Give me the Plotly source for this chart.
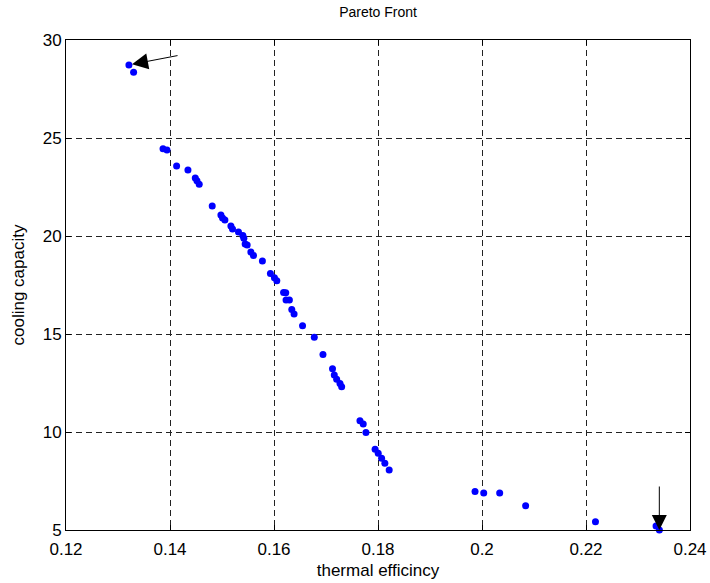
import plotly.graph_objects as go

# Pareto front data (thermal efficiency, cooling capacity)
thermal_eff = [
    0.1321, 0.1330, 0.13866, 0.13942, 0.14127, 0.14345, 0.14486, 0.14518, 0.14562,
    0.14812, 0.14979, 0.15010, 0.15056, 0.15171, 0.15202, 0.15317, 0.15401, 0.15420,
    0.15445, 0.15484, 0.15555, 0.15605, 0.15777, 0.15931, 0.16008, 0.16054, 0.16184,
    0.16226, 0.16232, 0.16296, 0.16342, 0.16386, 0.16549, 0.16775, 0.16942, 0.17125,
    0.17159, 0.17205, 0.17269, 0.17301, 0.17653, 0.17716, 0.17768, 0.17944, 0.18004,
    0.18069, 0.18132, 0.18215, 0.19866, 0.20033, 0.20340, 0.20839, 0.22182, 0.23347,
    0.23411,
]
cooling_cap = [
    28.72, 28.35, 24.45, 24.39, 23.57, 23.37, 22.96, 22.82, 22.64,
    21.53, 21.07, 20.92, 20.82, 20.51, 20.36, 20.20, 20.02, 19.88,
    19.59, 19.54, 19.18, 19.00, 18.72, 18.09, 17.87, 17.72, 17.12,
    17.11, 16.73, 16.73, 16.25, 16.02, 15.42, 14.83, 13.95, 13.23,
    12.91, 12.69, 12.48, 12.31, 10.58, 10.41, 9.98, 9.12, 8.91,
    8.66, 8.40, 8.06, 6.97, 6.89, 6.89, 6.24, 5.42, 5.20,
    5.00,
]
x_ticks = [0.12, 0.14, 0.16, 0.18, 0.2, 0.22, 0.24]
x_tick_labels = ["0.12", "0.14", "0.16", "0.18", "0.2", "0.22", "0.24"]
y_ticks = [5, 10, 15, 20, 25, 30]

FONT = "Liberation Sans, Arial, sans-serif"

fig = go.Figure()
fig.add_trace(go.Scatter(
    x=thermal_eff, y=cooling_cap, mode="markers",
    marker=dict(color="#0000ff", size=7, line=dict(width=0)),
    cliponaxis=False, showlegend=False,
))

# arrows pointing to the extreme points
fig.add_annotation(x=0.1327, y=28.76, ax=47, ay=-9, xref="x", yref="y",
                   text="", showarrow=True,
                   arrowhead=2, arrowsize=3.2, arrowwidth=1, arrowcolor="black")
fig.add_annotation(x=0.2341, y=5.0, ax=0, ay=-45, xref="x", yref="y",
                   text="", showarrow=True,
                   arrowhead=2, arrowsize=3, arrowwidth=1, arrowcolor="black")

axis_common = dict(
    showline=True, linecolor="black", linewidth=1, mirror="ticks",
    ticks="inside", ticklen=5, tickcolor="black", automargin=False,
    showgrid=True, gridcolor="#222222", gridwidth=1, griddash="6px,4px",
    zeroline=False, tickfont=dict(family=FONT, size=17, color="black"),
)

fig.update_layout(
    width=710, height=583,
    margin=dict(l=65.5, r=19.5, t=40, b=53),
    paper_bgcolor="white", plot_bgcolor="white",
    title=dict(text="Pareto Front", x=0.5325, xanchor="center",
               y=1 - 7 / 583, yanchor="top", yref="container",
               font=dict(family=FONT, size=14, color="black")),
    xaxis=dict(range=[0.12, 0.24], tickvals=x_ticks, ticktext=x_tick_labels,
               ticklabelstandoff=4,
               title=dict(text="thermal efficincy", standoff=5,
                          font=dict(family=FONT, size=17, color="black")),
               **axis_common),
    yaxis=dict(range=[5, 30], tickvals=y_ticks,
               title=dict(text="cooling capacity", standoff=13,
                          font=dict(family=FONT, size=17, color="black")),
               **axis_common),
)

fig.write_html("out.html", config={"displayModeBar": False},
               post_script="document.body.style.margin='0';document.body.style.padding='0';")
